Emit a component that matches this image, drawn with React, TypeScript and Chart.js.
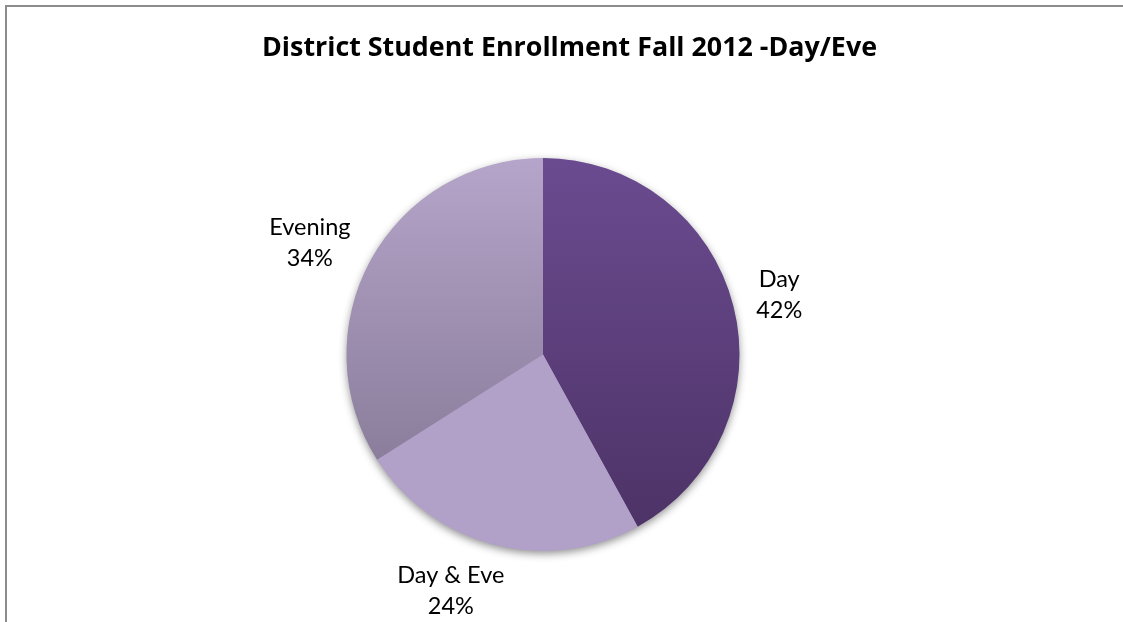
import { useEffect, useRef } from "react";
import { Chart, registerables } from "chart.js";

Chart.register(...registerables);

// ---- data ----
const categories = ["Day", "Day & Eve", "Evening"];
const values = [42, 24, 34];
const percentLabels = ["42%", "24%", "34%"];
const chartTitle = "District Student Enrollment Fall 2012 -Day/Eve";

// ---- styles ----
const colorsTop = ["#6b4b90", "#b1a0c8", "#b5a5ca"];
const colorsBottom = ["#4b3164", "#b1a0c8", "#7e718d"];
const labelAngleNudgeDeg = [0, 7, -3];
const TITLE_FONT = "'Open Sans', Lato, sans-serif";
const FONT = "Lato, 'Open Sans', sans-serif";
const TITLE_WIDTH = 615;

export default function App() {
  const ref = useRef<HTMLCanvasElement>(null);

  useEffect(() => {
    const canvas = ref.current;
    if (!canvas) return;

    const framePlugin = {
      id: "frameAndText",
      beforeDraw(chart: any) {
        const { ctx } = chart;
        ctx.save();
        ctx.fillStyle = "#ffffff";
        ctx.fillRect(0, 0, chart.width, chart.height);
        ctx.strokeStyle = "#8c8c8c";
        ctx.lineWidth = 2;
        ctx.beginPath();
        ctx.moveTo(6, chart.height + 10);
        ctx.lineTo(6, 6);
        ctx.lineTo(chart.width + 10, 6);
        ctx.stroke();
        ctx.fillStyle = "#000000";
        ctx.font = `bold 100px ${TITLE_FONT}`;
        const base = ctx.measureText(chartTitle).width;
        const size = Math.min(28, (100 * TITLE_WIDTH) / base);
        ctx.font = `bold ${size.toFixed(2)}px ${TITLE_FONT}`;
        ctx.textAlign = "center";
        ctx.textBaseline = "alphabetic";
        ctx.fillText(chartTitle, 569.5, 56);
        ctx.restore();
      },
      beforeDatasetsDraw(chart: any) {
        const meta = chart.getDatasetMeta(0);
        const arc = meta.data[0];
        if (!arc) return;
        const { ctx } = chart;
        ctx.save();
        ctx.shadowColor = "rgba(0,0,0,0.45)";
        ctx.shadowBlur = 8;
        ctx.shadowOffsetX = 0;
        ctx.shadowOffsetY = 3;
        ctx.fillStyle = "#b1a0c8";
        ctx.beginPath();
        ctx.arc(arc.x, arc.y, arc.outerRadius - 0.5, 0, Math.PI * 2);
        ctx.fill();
        ctx.restore();
      },
      afterDatasetsDraw(chart: any) {
        const meta = chart.getDatasetMeta(0);
        const { ctx } = chart;
        ctx.save();
        ctx.font = `23.5px ${FONT}`;
        ctx.fillStyle = "#000000";
        ctx.textAlign = "center";
        ctx.textBaseline = "alphabetic";
        const lineGap = 31;
        const boxH = 55;
        const gap = 24;
        meta.data.forEach((arc: any, i: number) => {
          const mid =
            (arc.startAngle + arc.endAngle) / 2 +
            (labelAngleNudgeDeg[i] * Math.PI) / 180;
          const dx = Math.cos(mid);
          const dy = Math.sin(mid);
          const l1 = categories[i];
          const l2 = percentLabels[i];
          const w = Math.max(ctx.measureText(l1).width, ctx.measureText(l2).width);
          const ext = Math.sqrt(Math.pow((w / 2) * dx, 2) + Math.pow((boxH / 2) * dy, 2));
          const dist = arc.outerRadius + gap + ext;
          const cx = arc.x + dx * dist;
          const cy = arc.y + dy * dist;
          ctx.fillText(l1, cx, cy - lineGap / 2 + 8.5);
          ctx.fillText(l2, cx, cy + lineGap / 2 + 8.5);
        });
        ctx.restore();
      },
    };

    const chart = new Chart(canvas, {
      type: "pie",
      data: {
        labels: categories,
        datasets: [
          {
            data: values,
            borderWidth: 0,
            backgroundColor: (c: any) => {
              const ch = c.chart;
              const area = ch.chartArea;
              const i = c.dataIndex ?? 0;
              if (!area) return colorsTop[i];
              const cy = (area.top + area.bottom) / 2;
              const r = Math.min(area.width, area.height) / 2;
              const g = ch.ctx.createLinearGradient(0, cy - r, 0, cy + r);
              g.addColorStop(0, colorsTop[i]);
              g.addColorStop(1, colorsBottom[i]);
              return g;
            },
          },
        ],
      },
      options: {
        animation: false,
        responsive: true,
        maintainAspectRatio: false,
        layout: {
          padding: { left: 346.5, right: 383.5, top: 158, bottom: 71 },
        },
        plugins: {
          legend: { display: false },
          tooltip: { enabled: false },
          title: { display: false },
        },
      },
      plugins: [framePlugin],
    });

    return () => chart.destroy();
  }, []);

  return (
    <div
      style={{
        position: "absolute",
        left: 0,
        top: 0,
        width: 1123,
        height: 622,
        background: "#ffffff",
      }}
    >
      <canvas ref={ref} />
    </div>
  );
}
